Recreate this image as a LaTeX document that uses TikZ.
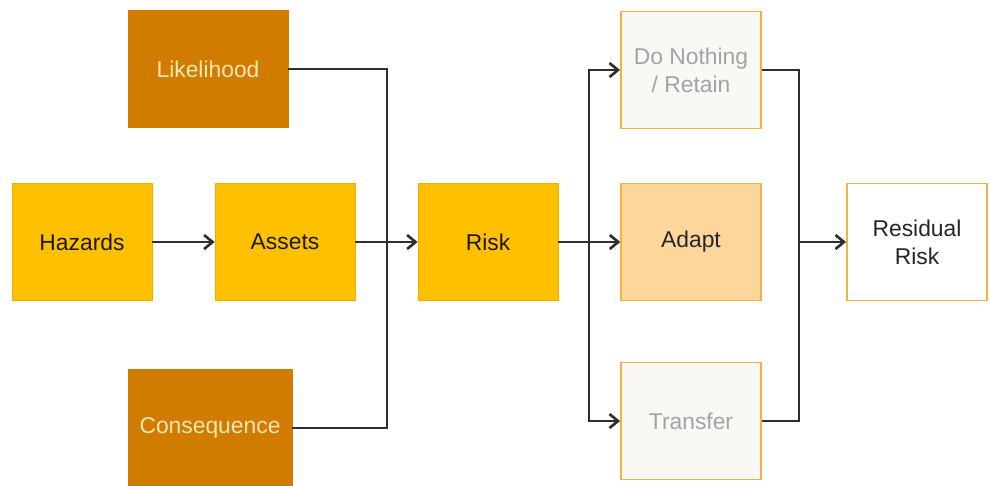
\documentclass[tikz,border=0pt]{standalone}
\usepackage{fontspec}
\setmainfont{Liberation Sans}
\usepackage{tikz}
\usetikzlibrary{arrows.meta}
\usetikzlibrary{positioning}
\definecolor{gold}{HTML}{FFC000}
\definecolor{goldline}{HTML}{F2AE00}
\definecolor{rust}{HTML}{D17B00}
\definecolor{cream}{HTML}{FDE8B4}
\definecolor{peach}{HTML}{FCD69B}
\definecolor{peachline}{HTML}{F5B042}
\definecolor{paper}{HTML}{FAF8F4}
\definecolor{greytext}{HTML}{A3A3A3}
\definecolor{wire}{HTML}{2E2E2E}
\tikzset{
    box/.style = {shape=rectangle,minimum width=2.8cm,minimum height=2.34cm,align=center,
        font=\fontsize{13}{16}\selectfont},
    driver/.style = {box,fill=gold,draw=goldline,text=black!90},
    factor/.style = {box,fill=rust,draw=rust,text=cream},
    option/.style = {box,fill=paper,draw=peachline,line width=1.1pt,text=greytext},
    chosen/.style = {box,fill=peach,draw=peachline,line width=0.8pt,text=black!85},
    result/.style = {box,fill=white,draw=peachline,line width=1.1pt,text=black!85}
}
\tikzset{
    link/.style = {draw=wire,line width=1.3pt},
    flow/.style = {link,-{Straight Barb[length=1.7mm,width=2.8mm,line width=1.5pt]}}
}
\begin{document}
\begin{tikzpicture}[x=0.02cm,y=-0.02cm]
    \useasboundingbox (0,0) rectangle (990,485);
    % Inputs
    \path (82,242) node[driver] (hazards) {Hazards}
        (285,242) node[driver] (assets) {Assets}
        (488,242) node[driver] (risk) {Risk}
    ;
    \path (208,69) node[factor,minimum width=3.2cm] (likelihood) {Likelihood}
        (210,428) node[factor,minimum width=3.28cm] (consequence) {Consequence}
    ;
    % Treatments
    \path (691,70) node[option] (retain) {Do Nothing\\/ Retain}
        (691,242) node[chosen] (adapt) {Adapt\vphantom{A}}
        (691,421) node[option] (transfer) {Transfer}
    ;
    \path (917,242) node[result] (residual) {Residual\\Risk};
    % Junctions
    \coordinate (joinin) at (387,242);
    \coordinate (split) at (589,242);
    \coordinate (joinout) at (799,242);
    % Connectors
    \foreach \src in {likelihood,consequence}
        \draw[link] (\src) -| (joinin);
    \foreach \src/\dest in {hazards/assets,assets/risk,risk/adapt,joinout/residual}
        \draw[flow] (\src) to (\dest);
    \foreach \dest in {retain,transfer}
        \draw[flow] (split) |- (\dest);
    \foreach \src in {retain,transfer}
        \draw[link] (\src) -| (joinout);
\end{tikzpicture}
\end{document}
